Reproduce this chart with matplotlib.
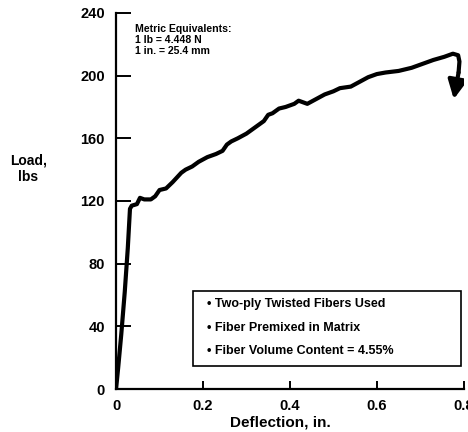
import numpy as np
import matplotlib.pyplot as plt
from matplotlib.patches import FancyArrowPatch, Rectangle

plt.rcParams['font.family'] = ['Liberation Sans', 'DejaVu Sans']
plt.rcParams['font.weight'] = 'bold'

# load-deflection curve
deflection = [0.0, 0.005, 0.012, 0.02, 0.027, 0.032, 0.036, 0.048, 0.055, 0.065, 0.08,
              0.09, 0.1, 0.115, 0.13, 0.15, 0.16, 0.175, 0.19, 0.21, 0.23, 0.245,
              0.255, 0.265, 0.28, 0.3, 0.32, 0.34, 0.35, 0.36, 0.375, 0.39, 0.41,
              0.42, 0.44, 0.46, 0.48, 0.5, 0.515, 0.54, 0.56, 0.58, 0.6, 0.62,
              0.65, 0.68, 0.7, 0.73, 0.755, 0.775, 0.787, 0.79, 0.788]
load = [0, 14, 35, 62, 90, 115, 117, 118, 122, 121, 121,
        123, 127, 128, 132, 138, 140, 142, 145, 148, 150, 152,
        156, 158, 160, 163, 167, 171, 175, 176, 179, 180, 182,
        184, 182, 185, 188, 190, 192, 193, 196, 199, 201, 202,
        203, 205, 207, 210, 212, 214, 213, 209, 202]
arrow_tip = (0.777, 185)

notes = ['\u2022 Two-ply Twisted Fibers Used',
         '\u2022 Fiber Premixed in Matrix',
         '\u2022 Fiber Volume Content = 4.55%']

fig = plt.figure(figsize=(4.68, 4.32), dpi=100)
ax = fig.add_axes([0.248, 0.0995, 0.743, 0.8705])

ax.plot(deflection, load, color='black', linewidth=3.0, solid_joinstyle='round',
        solid_capstyle='round')
ax.add_patch(FancyArrowPatch((deflection[-1], load[-1]), arrow_tip,
                             arrowstyle='-|>', mutation_scale=28, color='black',
                             linewidth=3.0, shrinkA=0, shrinkB=0))

ax.set_xlim(0, 0.8)
ax.set_ylim(0, 240)
ax.set_xticks([0, 0.2, 0.4, 0.6, 0.8])
ax.set_xticklabels(['0', '0.2', '0.4', '0.6', '0.8'])
ax.set_yticks([0, 40, 80, 120, 160, 200, 240])
ax.spines['top'].set_visible(False)
ax.spines['right'].set_visible(False)
ax.spines['left'].set_linewidth(1.6)
ax.spines['bottom'].set_linewidth(1.6)
ax.tick_params(axis='y', direction='in', length=11, width=1.4, labelsize=10.5, pad=8)
ax.tick_params(axis='x', direction='in', length=6, width=1.4, labelsize=10.5, pad=7)

fig.text(0.06, 0.61, 'Load,\nlbs', ha='center', va='center', fontsize=10,
         fontweight='bold', linespacing=1.25)
fig.text(0.6, 0.021, 'Deflection, in.', ha='center', va='center', fontsize=11,
         fontweight='bold')

ax.text(0.055, 0.97, 'Metric Equivalents:\n1 lb = 4.448 N\n1 in. = 25.4 mm',
        transform=ax.transAxes, ha='left', va='top', fontsize=7.6,
        fontweight='bold', linespacing=1.1)

ax.add_patch(Rectangle((0.221, 0.061), 0.77, 0.2, transform=ax.transAxes,
                       facecolor='white', edgecolor='black', linewidth=1.2))
for note, ypos in zip(notes, [0.226, 0.162, 0.101]):
    ax.text(0.262, ypos, note, transform=ax.transAxes, ha='left', va='center',
            fontsize=9, fontweight='bold')

fig.savefig('out.png', dpi=100)
